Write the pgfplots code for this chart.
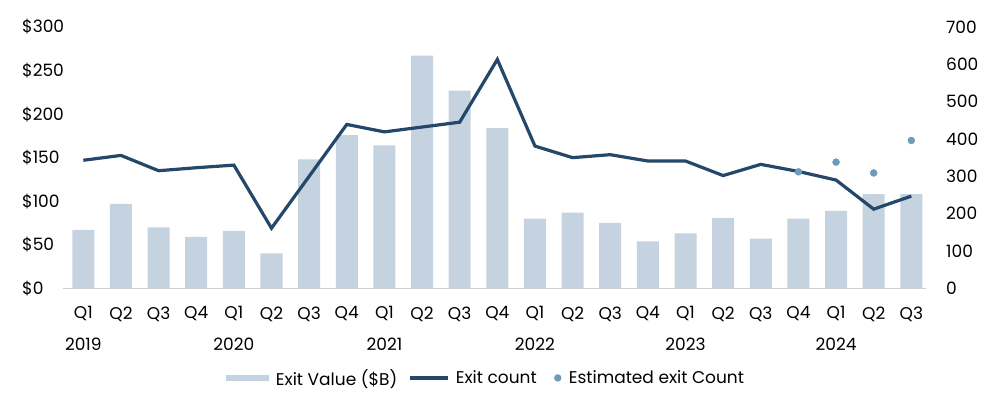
\documentclass[border=0pt]{standalone}
\usepackage{fontspec}
\setmainfont{Poppins}
\usepackage{pgfplots}
\pgfplotsset{compat=1.18}
\definecolor{barc}{HTML}{C5D3E0}
\definecolor{linec}{HTML}{25476A}
\definecolor{dotc}{HTML}{6D9BBB}
\definecolor{axc}{HTML}{D0D0D0}
\begin{document}
\begin{tikzpicture}
\useasboundingbox (-63bp,-119.7bp) rectangle (937bp,288.3bp);
\pgfplotsset{
  every axis/.append style={
    at={(0,0)}, anchor=south west,
    width=863bp, height=261.3bp, scale only axis,
    xmin=-0.54, xmax=22.39,
    font=\fontsize{17bp}{20bp}\selectfont,
    /pgf/number format/assume math mode=true,
    major tick length=0pt,
  }
}
\begin{axis}[
  ymin=0, ymax=300,
  ytick={0,50,...,300},
  yticklabel={\$\pgfmathprintnumber{\tick}},
  yticklabel style={anchor=west, inner sep=0pt, xshift=-41bp},
  axis y line*=left, y axis line style={draw=none},
  axis x line*=bottom, x axis line style={-, draw=axc, line width=1.5bp},
  xtick={0,...,22},
  xticklabels={{Q1\\2019},Q2,Q3,Q4,{Q1\\2020},Q2,Q3,Q4,{Q1\\2021},Q2,Q3,Q4,{Q1\\2022},Q2,Q3,Q4,{Q1\\2023},Q2,Q3,Q4,{Q1\\2024},Q2,Q3},
  xticklabel style={align=center, font=\fontsize{17bp}{32bp}\selectfont, inner sep=0pt, yshift=-18bp},
]
\addplot[ybar, bar width=0.585, fill=barc, draw=none] coordinates {
(0,67) (1,97) (2,70) (3,59) (4,66) (5,40) (6,148) (7,176) (8,164) (9,267) (10,227) (11,184)
(12,80) (13,87) (14,75) (15,54) (16,63) (17,81) (18,57) (19,80) (20,89) (21,108) (22,108)
};
\end{axis}
\begin{axis}[
  ymin=0, ymax=700,
  ytick={0,100,...,700},
  axis y line*=right, y axis line style={draw=none},
  axis x line=none,
  yticklabel style={anchor=west, inner sep=0pt, xshift=20bp},
  legend style={at={(0.489,-0.343)}, anchor=center, draw=none, fill=none,
    legend columns=-1, font=\fontsize{17bp}{20bp}\selectfont,
    nodes={inner xsep=0pt, inner ysep=2bp},
    /tikz/every even column/.append style={column sep=11bp}},
]
\addlegendimage{legend image code/.code={\fill[barc, draw=none] (0bp,-3bp) rectangle (43bp,3bp); \path[draw=none, fill=none] (0bp,0bp) (50bp,0bp);}}
\addlegendentry{Exit Value (\$B)}
\addplot[linec, line width=3.2bp, legend image code/.code={\draw[linec, line width=3.2bp] (0bp,0bp) -- (38bp,0bp); \path[draw=none, fill=none] (0bp,0bp) (46bp,0bp);}] coordinates {
(0,343) (1,356) (2,315) (3,323) (4,330) (5,161) (6,300) (7,439) (8,419) (9,432) (10,445) (11,613)
(12,381) (13,350) (14,358) (15,341) (16,341) (17,302) (18,332) (19,313) (20,290) (21,212) (22,247)
};
\addlegendentry{Exit count}
\addplot[only marks, mark=*, mark size=3.5bp, color=dotc, legend image code/.code={\path[draw=none, fill=none] (0bp,0bp) (21bp,0bp); \fill[dotc, draw=none] (10bp,0bp) circle (3.7bp);}] coordinates {
(19,312) (20,338) (21,309) (22,396)
};
\addlegendentry{Estimated exit Count}
\end{axis}
\end{tikzpicture}
\end{document}
